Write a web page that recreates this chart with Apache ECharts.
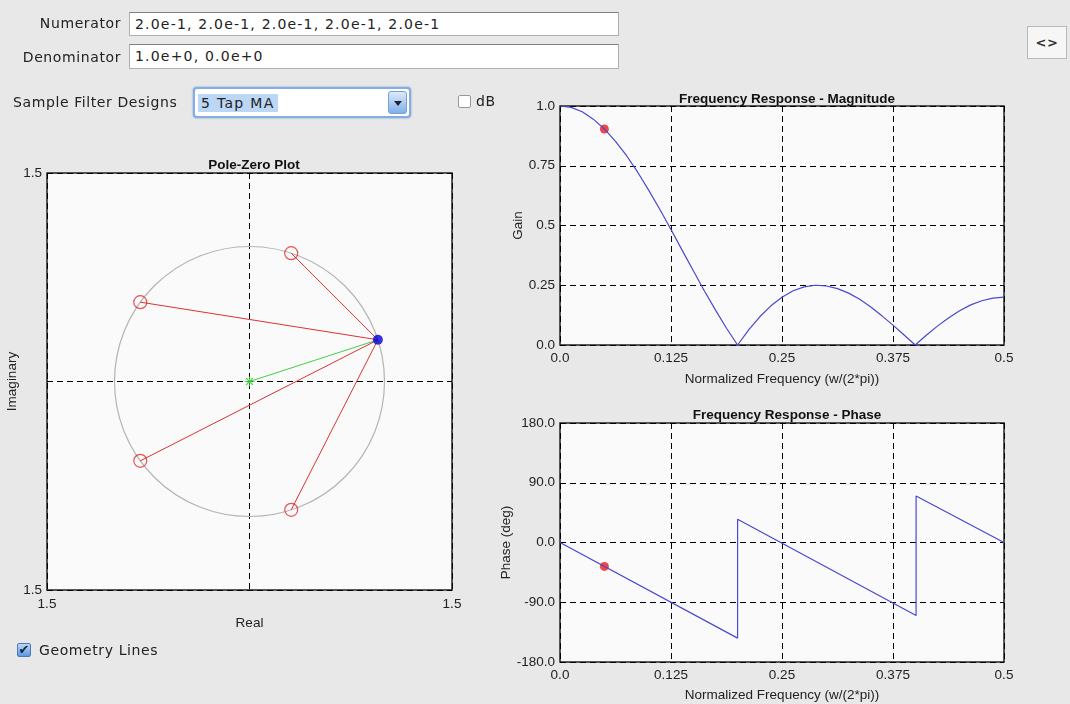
<!DOCTYPE html>
<html>
<head>
<meta charset="utf-8">
<title>Filter Design</title>
<script src="https://cdn.jsdelivr.net/npm/echarts@6/dist/echarts.min.js"></script>
<style>
  body { margin: 0; background: #e8e8e8; font-family: "DejaVu Sans", sans-serif; }
  #main { position: absolute; left: 0; top: 0; width: 1070px; height: 704px; }
  .ui { position: absolute; z-index: 2; font-size: 14px; color: #222; white-space: nowrap; letter-spacing: 0.6px; }
  .lbl { text-align: right; }
  .field { background: #fff; border: 1px solid #b0b0b0; border-top-color: #808080; box-sizing: border-box; padding-left: 5px; line-height: 22px; letter-spacing: 1.2px; }
  .combo { border: 2px solid #86ace2; border-radius: 4px; box-shadow: 0 0 2px #5b95dd; background: #fff; box-sizing: border-box; }
  .combo .sel { position: absolute; left: 3px; top: 5px; height: 18px; line-height: 18px; background: #bcd6f6; padding: 0 3px; letter-spacing: 1.3px; }
  .combo .btn { position: absolute; right: 2px; top: 2px; width: 19px; height: 23px; border-radius: 3px; background: linear-gradient(#dbeafb, #7fb0ea); border: 1px solid #7d9fcb; box-sizing: border-box; }
  .combo .btn:after { content: ""; position: absolute; left: 5px; top: 9px; border-left: 4px solid transparent; border-right: 4px solid transparent; border-top: 5px solid #223; }
  .box { background: #fff; border: 1px solid #999; border-radius: 2px; box-sizing: border-box; }
</style>
</head>
<body>
<div id="main"></div>

<div class="ui lbl" style="left:10px; top:15px; width:111px;">Numerator</div>
<div class="ui field" style="left:129px; top:12px; width:490px; height:24px;">2.0e-1, 2.0e-1, 2.0e-1, 2.0e-1, 2.0e-1</div>
<div class="ui lbl" style="left:0px; top:49px; width:121px;">Denominator</div>
<div class="ui field" style="left:129px; top:44px; width:490px; height:25px;">1.0e+0, 0.0e+0</div>

<div class="ui" style="left:13px; top:94px;">Sample Filter Designs</div>
<div class="ui combo" style="left:193px; top:87px; width:218px; height:31px;">
  <span class="sel">5 Tap MA</span>
  <span class="btn"></span>
</div>
<div class="ui box" style="left:458px; top:95px; width:13px; height:13px;"></div>
<div class="ui" style="left:476px; top:93px;">dB</div>

<div class="ui" style="left:1027px; top:26px; width:40px; height:33px; background:#f6f6f6; border:1px solid #b8b8b8; box-sizing:border-box; text-align:center; line-height:31px; font-size:13px; font-weight:bold; color:#333;">&lt;&gt;</div>

<div class="ui" style="left:17px; top:643px; width:14px; height:14px; background:linear-gradient(#bcd8f8,#5e97df); border:1px solid #4a78b8; box-sizing:border-box; border-radius:2px; font-size:13px; line-height:11px; color:#10233f; text-align:center; letter-spacing:0;">&#10004;</div>
<div class="ui" style="left:39px; top:642px;">Geometry Lines</div>

<script>
// frequency response, magnitude
var magFreq = [0, 0.0125, 0.025, 0.0375, 0.05, 0.0625, 0.075, 0.0875, 0.1, 0.1125,
  0.125, 0.1375, 0.15, 0.1625, 0.175, 0.1875, 0.2, 0.2125, 0.225, 0.2375,
  0.25, 0.2625, 0.275, 0.2875, 0.3, 0.3125, 0.325, 0.3375, 0.35, 0.3625,
  0.375, 0.3875, 0.4, 0.4125, 0.425, 0.4375, 0.45, 0.4625, 0.475, 0.4875, 0.5]
var magGain = [1.000, 0.994, 0.976, 0.945, 0.904, 0.852, 0.792, 0.723, 0.647, 0.567,
  0.483, 0.397, 0.312, 0.227, 0.147, 0.070, 0.000, 0.063, 0.118, 0.164,
  0.200, 0.227, 0.243, 0.250, 0.247, 0.236, 0.217, 0.191, 0.159, 0.122,
  0.083, 0.042, 0.000, 0.041, 0.079, 0.113, 0.143, 0.168, 0.185, 0.196, 0.200]

// phase (deg)
var phaseFreq = [0, 0.2, 0.2, 0.401, 0.401, 0.5]
var phaseDeg = [0, -144, 35, -110, 70, 0]

// selected frequency marker
var markFreq = 0.05
var markGain = 0.904
var markPhase = -36

// pole-zero plot
var zerosRe = [0.309, -0.809, -0.809, 0.309]
var zerosIm = [0.951, 0.588, -0.588, -0.951]
var polesRe = [0]
var polesIm = [0]
var evalRe = 0.951
var evalIm = 0.309
var unitCircle = [0, 0, 1] // centre re, centre im, radius

// tick labels
var freqTicks = ['0.0', '0.125', '0.25', '0.375', '0.5']
var gainTicks = ['0.0', '0.25', '0.5', '0.75', '1.0']
var phaseTicks = ['-180.0', '-90.0', '0.0', '90.0', '180.0']
var pzTicks = ['1.5', '', '1.5']

var FONT = 'Liberation Sans'
var FS = 13.5
var dashed = { show: true, lineStyle: { color: '#000', width: 1, type: [6, 4] } }
var labelStyle = { color: '#222', fontFamily: FONT, fontSize: FS }
var nameStyle = { color: '#222', fontFamily: FONT, fontSize: FS }
var titleStyle = { fontFamily: FONT, fontSize: FS, fontWeight: 'bold', color: '#111' }

function pick (arr, step, min) {
  return function (v) {
    return arr[Math.round((v - min) / step)]
  }
}

function pairs (xs, ys) {
  return xs.map(function (x, i) { return [x, ys[i]] })
}

var geoLines = zerosRe.map(function (r, i) {
  return { coords: [[r, zerosIm[i]], [evalRe, evalIm]] }
})

var myChart = echarts.init(document.getElementById('main'))
var option = {
  backgroundColor: '#e8e8e8',
  animation: false,
  title: [
    { text: 'Pole-Zero Plot', left: 249, top: 153, textAlign: 'center', textStyle: titleStyle },
    { text: 'Frequency Response - Magnitude', left: 782, top: 87, textAlign: 'center', textStyle: titleStyle },
    { text: 'Frequency Response - Phase', left: 782, top: 403, textAlign: 'center', textStyle: titleStyle }
  ],
  grid: [
    { left: 47, top: 173, width: 405, height: 417, show: true, backgroundColor: '#fafafa', borderColor: '#222', borderWidth: 1.5 },
    { left: 560, top: 106, width: 444, height: 239, show: true, backgroundColor: '#fafafa', borderColor: '#222', borderWidth: 1.5 },
    { left: 560, top: 423, width: 444, height: 239, show: true, backgroundColor: '#fafafa', borderColor: '#222', borderWidth: 1.5 }
  ],
  xAxis: [
    {
      gridIndex: 0, type: 'value', min: -1.5, max: 1.5, interval: 1.5,
      name: 'Real', nameLocation: 'middle', nameGap: 25, nameTextStyle: nameStyle,
      axisLine: { show: false }, axisTick: { show: false }, splitLine: dashed,
      axisLabel: Object.assign({ margin: 7, showMinLabel: true, showMaxLabel: true, formatter: pick(pzTicks, 1.5, -1.5) }, labelStyle)
    },
    {
      gridIndex: 1, type: 'value', min: 0, max: 0.5, interval: 0.125,
      name: 'Normalized Frequency (w/(2*pi))', nameLocation: 'middle', nameGap: 27, nameTextStyle: nameStyle,
      axisLine: { show: false }, axisTick: { show: false }, splitLine: dashed,
      axisLabel: Object.assign({ margin: 6, showMinLabel: true, showMaxLabel: true, formatter: pick(freqTicks, 0.125, 0) }, labelStyle)
    },
    {
      gridIndex: 2, type: 'value', min: 0, max: 0.5, interval: 0.125,
      name: 'Normalized Frequency (w/(2*pi))', nameLocation: 'middle', nameGap: 26, nameTextStyle: nameStyle,
      axisLine: { show: false }, axisTick: { show: false }, splitLine: dashed,
      axisLabel: Object.assign({ margin: 6, showMinLabel: true, showMaxLabel: true, formatter: pick(freqTicks, 0.125, 0) }, labelStyle)
    }
  ],
  yAxis: [
    {
      gridIndex: 0, type: 'value', min: -1.545, max: 1.545, interval: 1.545,
      name: 'Imaginary', nameLocation: 'middle', nameGap: 21, nameTextStyle: nameStyle,
      axisLine: { show: false }, axisTick: { show: false }, splitLine: dashed,
      axisLabel: Object.assign({ margin: 5, showMinLabel: true, showMaxLabel: true, formatter: pick(pzTicks, 1.545, -1.545) }, labelStyle)
    },
    {
      gridIndex: 1, type: 'value', min: 0, max: 1, interval: 0.25,
      name: 'Gain', nameLocation: 'middle', nameGap: 34, nameTextStyle: nameStyle,
      axisLine: { show: false }, axisTick: { show: false }, splitLine: dashed,
      axisLabel: Object.assign({ margin: 5, showMinLabel: true, showMaxLabel: true, formatter: pick(gainTicks, 0.25, 0) }, labelStyle)
    },
    {
      gridIndex: 2, type: 'value', min: -180, max: 180, interval: 90,
      name: 'Phase (deg)', nameLocation: 'middle', nameGap: 34, nameTextStyle: nameStyle,
      axisLine: { show: false }, axisTick: { show: false }, splitLine: dashed,
      axisLabel: Object.assign({ margin: 5, showMinLabel: true, showMaxLabel: true, formatter: pick(phaseTicks, 90, -180) }, labelStyle)
    }
  ],
  series: [
    {
      // unit circle
      type: 'custom', xAxisIndex: 0, yAxisIndex: 0, silent: true,
      data: [unitCircle],
      renderItem: function (params, api) {
        var c = api.coord([api.value(0), api.value(1)])
        var r = api.size([api.value(2), 0])[0]
        return { type: 'circle', shape: { cx: c[0], cy: c[1], r: r }, style: { fill: 'none', stroke: '#b4b4b4', lineWidth: 1.2 } }
      }
    },
    {
      type: 'lines', coordinateSystem: 'cartesian2d', xAxisIndex: 0, yAxisIndex: 0,
      data: geoLines, lineStyle: { color: '#dd3333', width: 1, opacity: 1 }
    },
    {
      type: 'lines', coordinateSystem: 'cartesian2d', xAxisIndex: 0, yAxisIndex: 0,
      data: [{ coords: [[polesRe[0], polesIm[0]], [evalRe, evalIm]] }],
      lineStyle: { color: '#44d044', width: 1, opacity: 1 }
    },
    {
      name: 'zeros', type: 'scatter', xAxisIndex: 0, yAxisIndex: 0,
      data: pairs(zerosRe, zerosIm), symbol: 'circle', symbolSize: 13,
      itemStyle: { color: 'transparent', borderColor: '#e02828', borderWidth: 1.2 }
    },
    {
      name: 'poles', type: 'scatter', xAxisIndex: 0, yAxisIndex: 0,
      data: pairs(polesRe, polesIm),
      symbol: 'path://M5,0L5,10M0,5L10,5M1.5,1.5L8.5,8.5M1.5,8.5L8.5,1.5', symbolSize: 10,
      itemStyle: { color: 'none', borderColor: '#33cc33', borderWidth: 1.2 }
    },
    {
      name: 'eval', type: 'scatter', xAxisIndex: 0, yAxisIndex: 0,
      data: [[evalRe, evalIm]], symbolSize: 10, itemStyle: { color: '#0000d8' }
    },
    {
      name: 'magnitude', type: 'line', xAxisIndex: 1, yAxisIndex: 1,
      data: pairs(magFreq, magGain), showSymbol: false,
      lineStyle: { color: '#4848d0', width: 1.2 }
    },
    {
      type: 'scatter', xAxisIndex: 1, yAxisIndex: 1,
      data: [[markFreq, markGain]], symbolSize: 9, itemStyle: { color: '#f01818' }
    },
    {
      name: 'phase', type: 'line', xAxisIndex: 2, yAxisIndex: 2,
      data: pairs(phaseFreq, phaseDeg), showSymbol: false,
      lineStyle: { color: '#4848d0', width: 1.2 }
    },
    {
      type: 'scatter', xAxisIndex: 2, yAxisIndex: 2,
      data: [[markFreq, markPhase]], symbolSize: 9, itemStyle: { color: '#f01818' }
    }
  ]
}
myChart.setOption(option)
</script>
</body>
</html>
